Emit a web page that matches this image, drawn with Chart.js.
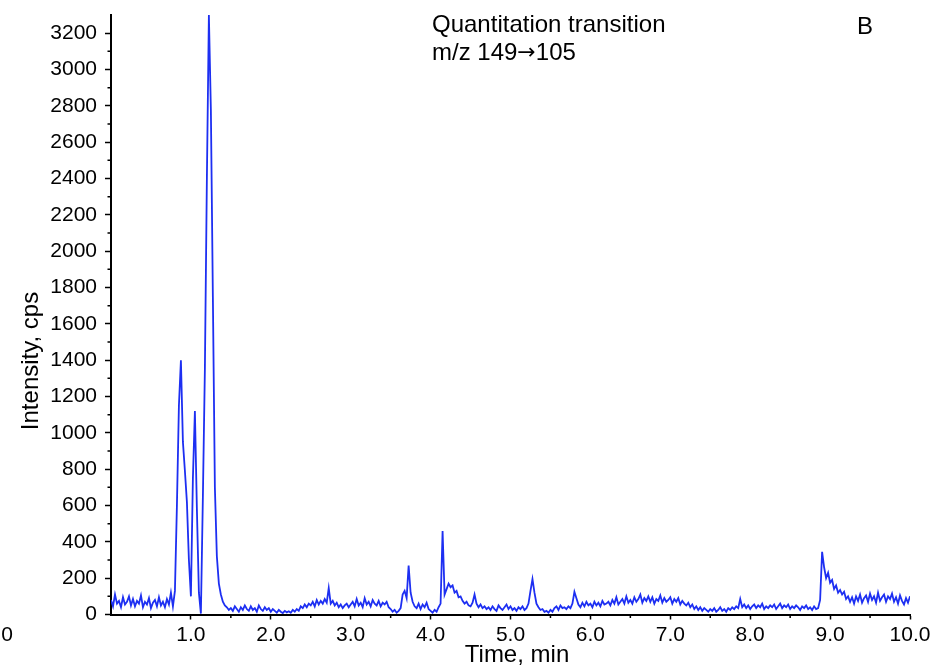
<!DOCTYPE html>
<html>
<head>
<meta charset="utf-8">
<script src="https://cdn.jsdelivr.net/npm/chart.js@4.4.1/dist/chart.umd.min.js"></script>
<style>
  html, body { margin: 0; padding: 0; background: #fff; }
  #wrap { width: 943px; height: 669px; }
</style>
</head>
<body>
<div id="wrap"><canvas id="chrom"></canvas></div>
<script>
// sampling of the trace (minutes)
const timeStart = 0;
const timeStep = 0.025;

// intensity, cps — one value per 0.025 min, 0.0 .. 10.0
const intensity = [
  80, 45, 110, 60, 75, 40, 95, 55, 70, 100,
  50, 85, 45, 75, 60, 105, 40, 70, 55, 90,
  35, 65, 80, 45, 95, 50, 70, 40, 85, 55,
  120, 45, 130, 600, 1150, 1400, 950, 790, 620, 300,
  100, 750, 1120, 580, 120, 5, 650, 1350, 2400, 3300,
  2780, 1750, 700, 320, 170, 110, 70, 50, 40, 25,
  35, 20, 45, 30, 15, 40, 25, 50, 30, 20,
  45, 25, 35, 15, 50, 30, 20, 40, 25, 35,
  15, 30, 20, 10, 25, 15, 8, 20, 12, 18,
  10, 25, 15, 30, 20, 45, 35, 55, 40, 60,
  50, 70, 45, 80, 55, 75, 60, 85, 65, 145,
  60, 75, 50, 65, 40, 55, 35, 50, 60, 40,
  55, 70, 45, 85, 50, 65, 40, 90, 55, 70,
  45, 80, 60, 50, 75, 45, 65, 55, 70, 40,
  30, 15, 25, 10, 20, 35, 110, 130, 90, 270,
  120, 70, 45, 35, 60, 30, 55, 40, 65, 30,
  20, 10, 25, 15, 40, 60, 460, 110, 140, 170,
  150, 160, 120, 130, 95, 100, 75, 60, 70, 50,
  45, 65, 110, 60, 40, 55, 35, 45, 30, 40,
  25, 45, 30, 20, 50, 35, 25, 40, 55, 30,
  45, 25, 35, 20, 40, 30, 45, 25, 35, 60,
  130, 195, 120, 60, 40, 25, 30, 15, 20, 10,
  25, 15, 35, 45, 25, 50, 35, 40, 30, 45,
  35, 60, 125, 90, 55, 40, 65, 45, 70, 50,
  60, 40, 70, 50, 65, 45, 75, 55, 60, 70,
  50, 80, 60, 95, 55, 70, 85, 60, 100, 65,
  80, 60, 95, 70, 85, 110, 65, 90, 75, 100,
  70, 95, 60, 85, 75, 105, 65, 90, 70, 80,
  95, 60, 85, 70, 90, 55, 75, 60, 50, 65,
  40, 55, 30, 45, 25, 40, 20, 35, 25, 15,
  30, 20, 35, 15, 25, 40, 20, 30, 15, 35,
  25, 40, 30, 45, 35, 85, 40, 55, 35, 50,
  30, 45, 55, 35, 50, 40, 60, 30, 45, 35,
  50, 40, 55, 30, 45, 60, 35, 50, 40, 55,
  30, 45, 35, 50, 40, 25, 45, 35, 50, 30,
  40, 25, 45, 30, 35, 80, 345, 260, 200, 230,
  175, 190, 140, 160, 120, 135, 110, 125, 85, 100,
  70, 95, 60, 100, 75, 110, 65, 90, 105, 70,
  115, 80, 100, 65, 120, 75, 95, 110, 70, 100,
  85, 115, 70, 95, 60, 105, 75, 55, 90, 65,
  100
];

// axis ticks
const xTicks = [1, 2, 3, 4, 5, 6, 7, 8, 9, 10];
const xMinorTicks = [0.5, 1.5, 2.5, 3.5, 4.5, 5.5, 6.5, 7.5, 8.5, 9.5];
const yTicks = [0, 200, 400, 600, 800, 1000, 1200, 1400, 1600, 1800, 2000, 2200, 2400, 2600, 2800, 3000, 3200];
const yMinorTicks = [100, 300, 500, 700, 900, 1100, 1300, 1500, 1700, 1900, 2100, 2300, 2500, 2700, 2900, 3100];

const titleLine1 = "Quantitation transition";
const titleLine2 = ["m/z 149", "\u2192", "105"];
const panelLetter = "B";

const points = intensity.map((v, i) => ({ x: timeStart + i * timeStep, y: v }));

const sans = "'Liberation Sans', Arial, sans-serif";
const tickFont = { family: sans, size: 21 };
const textFont = "24px " + sans;

// minor ticks + free text
const extras = {
  id: "extras",
  afterDraw(chart) {
    const ctx = chart.ctx;
    const xs = chart.scales.x;
    const ys = chart.scales.y;
    ctx.save();
    ctx.strokeStyle = "#000";
    ctx.lineWidth = 1.5;
    ctx.beginPath();
    for (const v of xMinorTicks) {
      const px = xs.getPixelForValue(v);
      ctx.moveTo(px, ys.bottom);
      ctx.lineTo(px, ys.bottom + 3.5);
    }
    for (const v of yMinorTicks) {
      const py = ys.getPixelForValue(v);
      ctx.moveTo(xs.left, py);
      ctx.lineTo(xs.left - 3.5, py);
    }
    ctx.stroke();

    ctx.fillStyle = "#000";
    ctx.font = textFont;
    ctx.textBaseline = "alphabetic";
    ctx.textAlign = "left";
    ctx.fillText(titleLine1, 432, 32);

    // second line: arrow taken from DejaVu, which has a long arrow like the original
    let tx = 432;
    ctx.fillText(titleLine2[0], tx, 60);
    tx += ctx.measureText(titleLine2[0]).width;
    ctx.font = "22px 'DejaVu Sans', sans-serif";
    ctx.fillText(titleLine2[1], tx, 59);
    tx += ctx.measureText(titleLine2[1]).width;
    ctx.font = textFont;
    ctx.fillText(titleLine2[2], tx, 60);

    ctx.fillText(panelLetter, 857, 34);

    ctx.textAlign = "center";
    ctx.textBaseline = "middle";
    ctx.fillText("Time, min", 517, 655);

    ctx.font = "21px " + sans;
    ctx.fillText("0", 7, 635);

    ctx.font = textFont;
    ctx.translate(31, 361);
    ctx.rotate(-Math.PI / 2);
    ctx.fillText("Intensity, cps", 0, 0);
    ctx.restore();
  }
};

new Chart(document.getElementById("chrom"), {
  type: "line",
  data: {
    datasets: [{
      data: points,
      borderColor: "#1d2ff2",
      borderWidth: 1.8,
      pointRadius: 0,
      tension: 0,
      fill: false
    }]
  },
  options: {
    responsive: true,
    maintainAspectRatio: false,
    animation: false,
    events: [],
    layout: { padding: { left: 0, right: 33, top: 15, bottom: 0 } },
    plugins: { legend: { display: false }, tooltip: { enabled: false } },
    scales: {
      x: {
        type: "linear",
        min: 0,
        max: 10,
        afterBuildTicks: (s) => { s.ticks = xTicks.map(v => ({ value: v })); },
        afterFit: (s) => { s.height = 54.5; s.paddingLeft = 0; s.paddingRight = 0; },
        border: { color: "#000", width: 2 },
        grid: { drawOnChartArea: false, drawTicks: true, tickLength: 5, tickColor: "#000", tickWidth: 1.5 },
        ticks: {
          color: "#000",
          font: tickFont,
          padding: 3,
          maxRotation: 0,
          autoSkip: false,
          callback: (v) => Number(v).toFixed(1)
        }
      },
      y: {
        min: 0,
        max: 3300,
        afterBuildTicks: (s) => { s.ticks = yTicks.map(v => ({ value: v })); },
        afterFit: (s) => { s.width = 111; s.paddingTop = 0; s.paddingBottom = 0; },
        border: { color: "#000", width: 2 },
        grid: { drawOnChartArea: false, drawTicks: true, tickLength: 6, tickColor: "#000", tickWidth: 1.5 },
        ticks: {
          color: "#000",
          font: tickFont,
          padding: 8,
          autoSkip: false,
          callback: (v) => String(v)
        }
      }
    }
  },
  plugins: [extras]
});
</script>
</body>
</html>
